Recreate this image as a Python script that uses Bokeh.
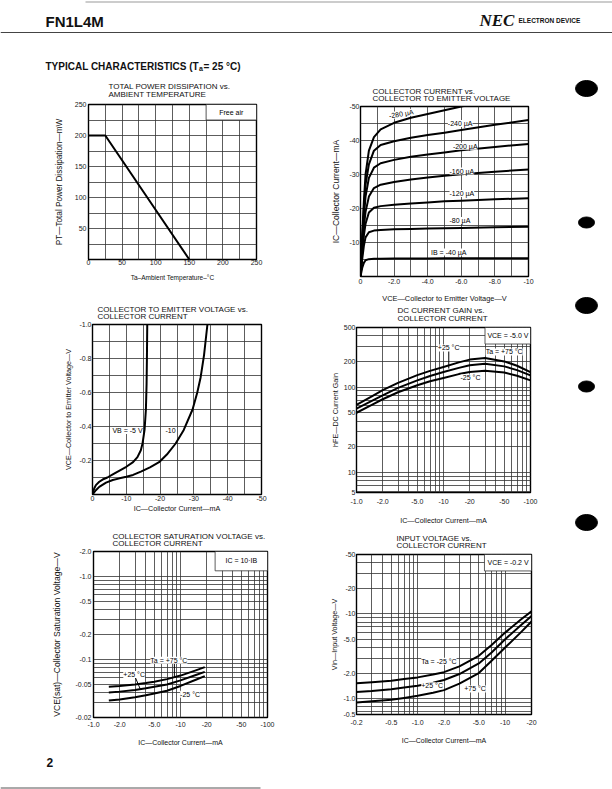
import json, math
from bokeh.plotting import figure
from bokeh.layouts import column, row
from bokeh.models import Range1d, FixedTicker, CustomJSTickFormatter, Label
from bokeh.core.properties import value
from bokeh.embed import file_html
from bokeh.resources import INLINE

FONT = "Liberation Sans"

# ---------------- data ----------------
# Chart 1: total power dissipation vs ambient temperature
pt_temp_c = [0, 25, 150]
pt_power_mw = [200, 200, 0]
c1_xt = [0, 50, 100, 150, 200, 250]
c1_xl = ["0", "50", "100", "150", "200", "250"]
c1_yt = [50, 100, 150, 200, 250]
c1_yl = ["50", "100", "150", "200", "250"]
c1_xg = [25, 50, 75, 100, 125, 150, 175, 200, 225]
c1_yg = [25, 50, 75, 100, 125, 150, 175, 200, 225]

# Chart 2: collector current (mA, magnitude) vs VCE (V, magnitude)
c2_vce = [0, 0.1, 0.2, 0.3, 0.5, 0.8, 1.2, 2, 3, 4, 5, 6, 8, 10]
ic_ib280 = [0, 12, 22, 30, 37, 41, 43.3, 45.2, 46.7, 47.8, 48.9, 50, 52, 54]
ic_ib240 = [0, 11, 20, 27, 33, 37, 38.7, 39.8, 40.8, 41.6, 42.3, 43.1, 44.6, 46]
ic_ib200 = [0, 9.5, 17.5, 23.5, 29, 32, 33.3, 34.3, 35.2, 35.9, 36.5, 37.1, 38.1, 39]
ic_ib160 = [0, 8, 14.5, 19, 23.5, 26, 27, 27.8, 28.5, 29.1, 29.6, 30.1, 30.8, 31.5]
ic_ib120 = [0, 7, 12, 15.5, 18.8, 20.2, 20.7, 21.1, 21.5, 21.8, 22.1, 22.3, 22.7, 23]
ic_ib80 = [0, 5, 9, 11.5, 13, 13.5, 13.7, 13.9, 14.0, 14.1, 14.2, 14.3, 14.5, 14.6]
ic_ib40 = [0, 2.5, 4, 4.8, 5.1, 5.2, 5.2, 5.3, 5.3, 5.3, 5.35, 5.35, 5.4, 5.4]
c2_xt = [0, 2, 4, 6, 8, 10]
c2_xl = ["0", "-2.0", "-4.0", "-6.0", "-8.0", "-10"]
c2_yt = [10, 20, 30, 40, 50]
c2_yl = ["-10", "-20", "-30", "-40", "-50"]
c2_xg = [1, 2, 3, 4, 5, 6, 7, 8, 9]
c2_yg = [5, 10, 15, 20, 25, 30, 35, 40, 45]

# Chart 3: VCE (V) vs IC (mA), magnitudes
vb5_ic = [0, 0.5, 1, 2, 3, 4.4, 6, 8, 10, 12, 13.3, 14.3, 14.8, 15.4, 15.8, 16.0, 16.1, 16.2]
vb5_vce = [0, 0.035, 0.055, 0.075, 0.088, 0.1, 0.118, 0.14, 0.163, 0.19, 0.22, 0.26, 0.30, 0.38, 0.5, 0.65, 0.8, 1.0]
vb10_ic = [0, 1, 2, 4, 6, 8, 10, 12, 14.3, 17, 19.7, 22, 24.6, 27, 29.6, 31, 32, 33, 34]
vb10_vce = [0, 0.025, 0.045, 0.07, 0.085, 0.095, 0.104, 0.115, 0.135, 0.16, 0.19, 0.235, 0.3, 0.38, 0.5, 0.6, 0.69, 0.82, 1.0]
c3_xt = [0, 10, 20, 30, 40, 50]
c3_xl = ["0", "-10", "-20", "-30", "-40", "-50"]
c3_yt = [0.2, 0.4, 0.6, 0.8, 1.0]
c3_yl = ["-0.2", "-0.4", "-0.6", "-0.8", "-1.0"]
c3_xg = [5, 10, 15, 20, 25, 30, 35, 40, 45]
c3_yg = [0.1, 0.2, 0.3, 0.4, 0.5, 0.6, 0.7, 0.8, 0.9]

# Chart 4: hFE vs IC (mA, magnitude)
c4_ic = [1, 1.5, 2, 3, 5, 7, 10, 15, 20, 30, 50, 70, 100]
hfe_p75 = [62, 78, 92, 112, 138, 155, 172, 195, 210, 220, 200, 178, 150]
hfe_p25 = [56, 69, 80, 98, 120, 135, 150, 168, 180, 188, 175, 158, 137]
hfe_m25 = [50, 62, 72, 87, 105, 117, 128, 142, 150, 155, 148, 136, 120]
c4_xt = [1, 2, 5, 10, 20, 50, 100]
c4_xl = ["-1.0", "-2.0", "-5.0", "-10", "-20", "-50", "-100"]
c4_yt = [5.8, 10, 20, 50, 100, 200, 500]
c4_yl = ["5", "10", "20", "50", "100", "200", "500"]
c4_xg = [2, 3, 4, 5, 6, 7, 8, 9, 10, 20, 30, 40, 50, 60, 70, 80, 90]
c4_yg = [6, 7, 8, 9, 10, 20, 30, 40, 50, 60, 70, 80, 90, 100, 200, 300, 400]

# Chart 5: VCE(sat) (V) vs IC (mA), magnitudes
c5_ic = [1.5, 2, 3, 4, 5, 7, 10, 15, 19]
vsat_p75 = [0.047, 0.048, 0.050, 0.052, 0.054, 0.058, 0.064, 0.074, 0.081]
vsat_p25 = [0.040, 0.041, 0.043, 0.045, 0.047, 0.050, 0.056, 0.065, 0.071]
vsat_m25 = [0.032, 0.033, 0.035, 0.037, 0.039, 0.042, 0.048, 0.057, 0.063]
c5_xt = [1, 2, 5, 10, 20, 50, 100]
c5_xl = ["-1.0", "-2.0", "-5.0", "-10", "-20", "-50", "-100"]
c5_yt = [0.02, 0.05, 0.1, 0.2, 0.5, 1, 2]
c5_yl = ["-0.02", "-0.05", "-0.1", "-0.2", "-0.5", "-1.0", "-2.0"]
c5_xg = [2, 3, 4, 5, 6, 7, 8, 9, 10, 20, 30, 40, 50, 60, 70, 80, 90]
c5_yg = [0.03, 0.04, 0.05, 0.06, 0.07, 0.08, 0.09, 0.1, 0.2, 0.3, 0.4, 0.5, 0.6, 0.7, 0.8, 0.9, 1.0]

# Chart 6: Vin (V) vs IC (mA), magnitudes
c6_ic = [0.2, 0.3, 0.5, 0.7, 1, 1.5, 2, 3, 5, 7, 10, 15, 20]
vin_m25 = [1.52, 1.56, 1.62, 1.7, 1.78, 1.92, 2.05, 2.4, 3.2, 4.3, 6.0, 8.5, 10.7]
vin_p25 = [1.2, 1.23, 1.29, 1.35, 1.42, 1.54, 1.66, 1.95, 2.6, 3.5, 5.0, 7.3, 9.4]
vin_p75 = [0.9, 0.93, 0.97, 1.02, 1.08, 1.17, 1.26, 1.5, 2.0, 2.8, 4.0, 6.0, 8.1]
c6_xt = [0.2, 0.5, 1, 2, 5, 10, 20]
c6_xl = ["-0.2", "-0.5", "-1.0", "-2.0", "-5.0", "-10", "-20"]
c6_yt = [0.65, 1, 2, 5, 10, 20, 50]
c6_yl = ["-0.5", "-1.0", "-2.0", "-5.0", "-10", "-20", "-50"]
c6_xg = [0.3, 0.4, 0.5, 0.6, 0.7, 0.8, 0.9, 1, 2, 3, 4, 5, 6, 7, 8, 9, 10]
c6_yg = [0.7, 0.8, 0.9, 1, 2, 3, 4, 5, 6, 7, 8, 9, 10, 20, 30, 40]

# page decorations
bullet_y = [88, 222, 305, 386, 522]
bullet_w = [22, 16, 22, 16, 22]
bullet_h = [16, 11, 16, 11, 16]

# ---------------- layout constants (page pixels) ----------------
LEFT_X0, LEFT_W = 0, 300
RIGHT_X0, RIGHT_W = 300, 260
BUL_X0, BUL_W = 560, 52
HEAD_H = 75
BODY_H = 675
FOOT_Y0, FOOT_H = 750, 39

# frames (left, top, right, bottom)
F1 = (88, 104, 256, 259)
F2 = (360, 106, 528, 276)
F3 = (92, 324, 261, 494)
F4 = (356, 327, 530, 492)
F5 = (93, 551, 267, 717)
F6 = (356, 554, 531, 714)
# vertical blocks: (title strip y0, chart fig y0, chart fig y1)
B1 = (75, 100, 303)
B3 = (303, 321, 526)
B5 = (526, 548, 750)
B2 = (75, 102, 305)
B4 = (305, 323, 528)
B6 = (528, 550, 750)


def no_align(p):
    if "frame_align" in p.properties():
        p.frame_align = False
    return p


def labeler(ticks, labels):
    m = {("%g" % t): l for t, l in zip(ticks, labels)}
    code = "const m = %s; const k = String(tick); return (k in m) ? m[k] : '';" % json.dumps(m, ensure_ascii=False)
    return CustomJSTickFormatter(code=code)


def make_chart(frame, col, block, xr, yr, xlog, ylog, xt, xl, yt, yl, xg, yg,
               xs, ys, xlab, ylab, xals, yals, xsize, ysize):
    fl, ft, fr, fb = frame
    cx0, cw = col
    _, fy0, fy1 = block
    p = figure(width=cw, height=fy1 - fy0, x_range=Range1d(*xr), y_range=Range1d(*yr),
               x_axis_type="log" if xlog else "linear",
               y_axis_type="log" if ylog else "linear",
               output_backend="svg", toolbar_location=None,
               min_border_left=fl - cx0, min_border_right=cx0 + cw - fr,
               min_border_top=ft - fy0, min_border_bottom=fy1 - fb)
    no_align(p)
    p.outline_line_color = "black"
    p.outline_line_width = 1.4
    p.background_fill_color = "white"
    p.border_fill_color = "white"
    for ax, t, l, s, lab, als, sz in ((p.xaxis[0], xt, xl, xs, xlab, xals, xsize),
                                      (p.yaxis[0], yt, yl, ys, ylab, yals, ysize)):
        ax.ticker = FixedTicker(ticks=t)
        ax.formatter = labeler(t, l)
        ax.major_label_standoff = s
        ax.axis_line_color = None
        ax.major_tick_line_color = None
        ax.minor_tick_line_color = None
        ax.major_tick_out = 0
        ax.major_tick_in = 0
        ax.minor_tick_out = 0
        ax.minor_tick_in = 0
        ax.major_label_text_font = FONT
        ax.major_label_text_font_size = "7px"
        ax.major_label_text_color = "#1a1a1a"
        ax.axis_label = lab
        ax.axis_label_standoff = als
        ax.axis_label_text_font = FONT
        ax.axis_label_text_font_size = sz
        ax.axis_label_text_font_style = "normal"
        ax.axis_label_text_color = "#111"
    p.xgrid[0].ticker = FixedTicker(ticks=xg)
    p.ygrid[0].ticker = FixedTicker(ticks=yg)
    for g in (p.xgrid[0], p.ygrid[0]):
        g.grid_line_color = "#333333"
        g.grid_line_width = 0.8
    return p


def blank(w, h, x0, y0):
    p = figure(width=w, height=h, x_range=Range1d(x0, x0 + w), y_range=Range1d(y0 + h, y0),
               output_backend="svg", toolbar_location=None, min_border=0,
               x_axis_location=None, y_axis_location=None)
    no_align(p)
    p.grid.visible = False
    p.outline_line_color = None
    p.background_fill_color = "white"
    p.border_fill_color = "white"
    return p


def title_strip(col, block, tx, ty1, ty2, t1, t2):
    cx0, cw = col
    y0, fy0, _ = block
    p = blank(cw, fy0 - y0, cx0, y0)
    p.text(x=[tx, tx], y=[ty1, ty2], text=[t1, t2], text_font=value(FONT), text_font_size="8px",
           text_baseline="middle", text_align="left", text_color="#111")
    return p


def data_label(p, x, y, text, align="left", angle=0.0, bg=True, size="7px"):
    p.add_layout(Label(x=x, y=y, text=text, text_align=align, text_baseline="middle", angle=angle,
                       text_font=FONT, text_font_size=size, text_color="black",
                       background_fill_color="white" if bg else None))


CURVE = dict(line_color="black", line_width=2, line_join="round")
LCOL = (LEFT_X0, LEFT_W)
RCOL = (RIGHT_X0, RIGHT_W)

# ---------- Chart 1 ----------
t1 = title_strip(LCOL, B1, 108, 86, 94, "TOTAL POWER DISSIPATION vs.", "AMBIENT TEMPERATURE")
f1 = make_chart(F1, LCOL, B1, (0, 250), (0, 250), False, False,
                c1_xt, c1_xl, c1_yt, c1_yl, c1_xg, c1_yg, 0, 2,
                "Ta–Ambient Temperature–°C", "PT—Total Power Dissipation—mW", 6, 8, "6.5px", "8.2px")
f1.quad(left=[175], right=[250], bottom=[225], top=[250], fill_color="white", line_color="#333", line_width=0.8)
data_label(f1, 212.5, 237.5, "Free air", align="center", bg=False)
f1.line(pt_temp_c, pt_power_mw, **CURVE)

# ---------- Chart 2 ----------
t2 = title_strip(RCOL, B2, 372, 90.5, 97.5, "COLLECTOR CURRENT vs.", "COLLECTOR TO EMITTER VOLTAGE")
f2 = make_chart(F2, RCOL, B2, (0, 10), (0, 50), False, False,
                c2_xt, c2_xl, c2_yt, c2_yl, c2_xg, c2_yg, 2, 1,
                "VCE—Collector to Emitter Voltage—V", "IC—Collector Current—mA", 7, 5, "7.4px", "8.6px")
for ys in (ic_ib280, ic_ib240, ic_ib200, ic_ib160, ic_ib120, ic_ib80, ic_ib40):
    f2.line(c2_vce, ys, **CURVE)
data_label(f2, 1.7, 47.2, "-280 µA", angle=0.17)
data_label(f2, 5.2, 45.0, "-240 µA")
data_label(f2, 5.5, 38.3, "-200 µA")
data_label(f2, 5.3, 31.0, "-160 µA")
data_label(f2, 5.3, 24.4, "-120 µA")
data_label(f2, 5.3, 16.5, "-80 µA")
data_label(f2, 4.2, 7.2, "IB = -40 µA")

# ---------- Chart 3 ----------
t3 = title_strip(LCOL, B3, 97, 308.5, 316, "COLLECTOR TO EMITTER VOLTAGE vs.", "COLLECTOR CURRENT")
f3 = make_chart(F3, LCOL, B3, (0, 50), (0, 1.0), False, False,
                c3_xt, c3_xl, c3_yt, c3_yl, c3_xg, c3_yg, 1, 1,
                "IC—Collector Current—mA", "VCE—Collector to Emitter Voltage—V", 0, 3, "7.2px", "7.2px")
f3.line(vb5_ic, vb5_vce, **CURVE)
f3.line(vb10_ic, vb10_vce, **CURVE)
data_label(f3, 5.9, 0.376, "VB = -5 V")
data_label(f3, 21.6, 0.376, "-10")

# ---------- Chart 4 ----------
t4 = title_strip(RCOL, B4, 397, 310, 317.5, "DC CURRENT GAIN vs.", "COLLECTOR CURRENT")
f4 = make_chart(F4, RCOL, B4, (1, 100), (5.8, 500), True, True,
                c4_xt, c4_xl, c4_yt, c4_yl, c4_xg, c4_yg, 6, 1,
                "IC—Collector Current—mA", "hFE—DC Current Gain", 9, 1, "7.2px", "7.2px")
f4.quad(left=[30], right=[100], bottom=[320], top=[500], fill_color="white", line_color="#333", line_width=0.8)
data_label(f4, 55, 400, "VCE = -5.0 V", align="center", bg=False)
for ys in (hfe_p75, hfe_p25, hfe_m25):
    f4.line(c4_ic, ys, **CURVE)
f4.line([11.5, 11.5], [265, 165], line_color="black", line_width=1)
data_label(f4, 8.6, 288, "+25 °C")
data_label(f4, 30.5, 258, "Ta = +75 °C")
data_label(f4, 15.7, 128, "-25 °C")

# ---------- Chart 5 ----------
t5 = title_strip(LCOL, B5, 112, 535.5, 543, "COLLECTOR SATURATION VOLTAGE vs.", "COLLECTOR CURRENT")
f5 = make_chart(F5, LCOL, B5, (1, 100), (0.02, 2), True, True,
                c5_xt, c5_xl, c5_yt, c5_yl, c5_xg, c5_yg, 4, 2,
                "IC—Collector Current—mA", "VCE(sat)—Collector Saturation Voltage—V", 9, 11, "7px", "8.6px")
f5.quad(left=[25], right=[100], bottom=[1.17], top=[2], fill_color="white", line_color="#333", line_width=0.8)
data_label(f5, 50, 1.55, "IC = 10·IB", align="center", bg=False)
for ys in (vsat_p75, vsat_p25, vsat_m25):
    f5.line(c5_ic, ys, **CURVE)
f5.line([8.5, 8.5], [0.09, 0.06], line_color="black", line_width=1)
f5.line([3.0, 3.45], [0.062, 0.044], line_color="black", line_width=1)
data_label(f5, 4.5, 0.098, "Ta = +75 °C")
data_label(f5, 2.2, 0.066, "+25 °C")
data_label(f5, 9.9, 0.038, "-25 °C")

# ---------- Chart 6 ----------
t6 = title_strip(RCOL, B6, 396, 538, 545, "INPUT VOLTAGE vs.", "COLLECTOR CURRENT")
f6 = make_chart(F6, RCOL, B6, (0.2, 20), (0.65, 50), True, True,
                c6_xt, c6_xl, c6_yt, c6_yl, c6_xg, c6_yg, 5, 1,
                "IC—Collector Current—mA", "Vin—Input Voltage—V", 9, 1, "7px", "7.2px")
f6.quad(left=[5.8], right=[20], bottom=[32], top=[50], fill_color="white", line_color="#333", line_width=0.8)
data_label(f6, 10.8, 40, "VCE = -0.2 V", align="center", bg=False)
for ys in (vin_m25, vin_p25, vin_p75):
    f6.line(c6_ic, ys, **CURVE)
data_label(f6, 1.1, 2.75, "Ta = -25 °C")
data_label(f6, 1.1, 1.42, "+25 °C")
data_label(f6, 3.4, 1.3, "+75 °C")

# ---------- header ----------
header = blank(612, HEAD_H, 0, 0)
header.segment(x0=[85, 0], y0=[1.5, 32], x1=[612, 612], y1=[1.5, 32],
               line_color=["#999999", "#444444"], line_width=[1, 1.2])
header.text(x=[45], y=[21], text=["FN1L4M"], text_font=value(FONT), text_font_style="bold",
            text_font_size="15px", text_baseline="alphabetic", text_color="#111")
header.text(x=[479], y=[20], text=["NEC"], text_font=value("Liberation Serif"), text_font_style="bold italic",
            text_font_size="17px", text_baseline="alphabetic", text_color="#111")
header.text(x=[518], y=[19.5], text=["ELECTRON DEVICE"], text_font=value(FONT), text_font_style="bold",
            text_font_size="6.5px", text_baseline="alphabetic", text_color="#111")
header.text(x=[45], y=[66], text=["TYPICAL CHARACTERISTICS (T"], text_font=value(FONT), text_font_style="bold",
            text_font_size="10px", text_baseline="alphabetic", text_color="#111")
header.text(x=[198.5], y=[68], text=["a"], text_font=value(FONT), text_font_style="bold",
            text_font_size="7px", text_baseline="alphabetic", text_color="#111")
header.text(x=[203], y=[66], text=[" = 25 °C)"], text_font=value(FONT), text_font_style="bold",
            text_font_size="10px", text_baseline="alphabetic", text_color="#111")

# ---------- bullets ----------
bul = blank(BUL_W, BODY_H, BUL_X0, HEAD_H)
bul.ellipse(x=[586] * len(bullet_y), y=bullet_y, width=bullet_w, height=bullet_h,
            fill_color="black", line_color="black")

# ---------- footer ----------
footer = blank(612, FOOT_H, 0, FOOT_Y0)
footer.text(x=[46], y=[762], text=["2"], text_font=value(FONT), text_font_style="bold",
            text_font_size="12px", text_baseline="alphabetic", text_color="#111")
footer.segment(x0=[0], y0=[787.5], x1=[260], y1=[787.5], line_color="#555555", line_width=1)

left_col = column(t1, f1, t3, f3, t5, f5)
right_col = column(t2, f2, t4, f4, t6, f6)
page = column(header, row(left_col, right_col, bul), footer)

open("out.html", "w").write(file_html(page, INLINE))
